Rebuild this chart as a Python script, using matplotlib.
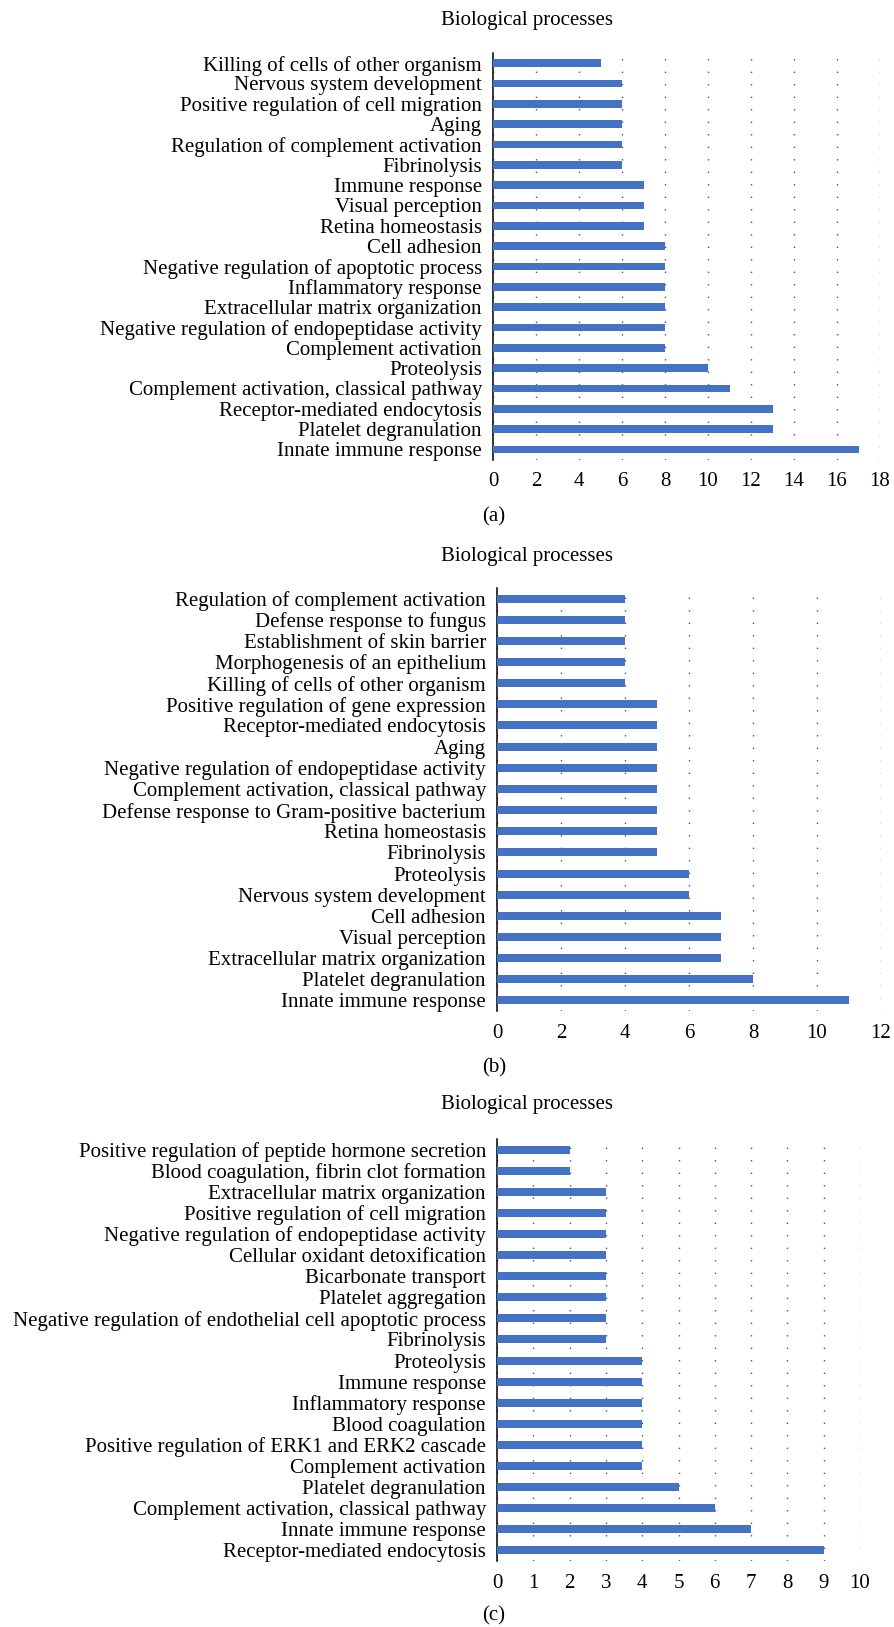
import matplotlib
matplotlib.use('Agg')
import matplotlib.pyplot as plt

plt.rcParams['font.family'] = ['Liberation Serif', 'DejaVu Serif']

# --- data (top to bottom as in the figure) ---
terms_a = [
    'Killing of cells of other organism', 'Nervous system development',
    'Positive regulation of cell migration', 'Aging',
    'Regulation of complement activation', 'Fibrinolysis', 'Immune response',
    'Visual perception', 'Retina homeostasis', 'Cell adhesion',
    'Negative regulation of apoptotic process', 'Inflammatory response',
    'Extracellular matrix organization',
    'Negative regulation of endopeptidase activity', 'Complement activation',
    'Proteolysis', 'Complement activation, classical pathway',
    'Receptor-mediated endocytosis', 'Platelet degranulation',
    'Innate immune response',
]
counts_a = [5, 6, 6, 6, 6, 6, 7, 7, 7, 8, 8, 8, 8, 8, 8, 10, 11, 13, 13, 17]
ticks_a = list(range(0, 19, 2))

terms_b = [
    'Regulation of complement activation', 'Defense response to fungus',
    'Establishment of skin barrier', 'Morphogenesis of an epithelium',
    'Killing of cells of other organism',
    'Positive regulation of gene expression', 'Receptor-mediated endocytosis',
    'Aging', 'Negative regulation of endopeptidase activity',
    'Complement activation, classical pathway',
    'Defense response to Gram-positive bacterium', 'Retina homeostasis',
    'Fibrinolysis', 'Proteolysis', 'Nervous system development',
    'Cell adhesion', 'Visual perception', 'Extracellular matrix organization',
    'Platelet degranulation', 'Innate immune response',
]
counts_b = [4, 4, 4, 4, 4, 5, 5, 5, 5, 5, 5, 5, 5, 6, 6, 7, 7, 7, 8, 11]
ticks_b = list(range(0, 13, 2))

terms_c = [
    'Positive regulation of peptide hormone secretion',
    'Blood coagulation, fibrin clot formation',
    'Extracellular matrix organization',
    'Positive regulation of cell migration',
    'Negative regulation of endopeptidase activity',
    'Cellular oxidant detoxification', 'Bicarbonate transport',
    'Platelet aggregation',
    'Negative regulation of endothelial cell apoptotic process',
    'Fibrinolysis', 'Proteolysis', 'Immune response', 'Inflammatory response',
    'Blood coagulation', 'Positive regulation of ERK1 and ERK2 cascade',
    'Complement activation', 'Platelet degranulation',
    'Complement activation, classical pathway', 'Innate immune response',
    'Receptor-mediated endocytosis',
]
counts_c = [2, 2, 3, 3, 3, 3, 3, 3, 3, 3, 4, 4, 4, 4, 4, 4, 5, 6, 7, 9]
ticks_c = list(range(0, 11))

W, H = 894, 1627
fig = plt.figure(figsize=(W / 100, H / 100), dpi=100)

BAR = '#4472C4'
FS = 15


def px_axes(left, right, top, bottom):
    return fig.add_axes([left / W, 1 - bottom / H, (right - left) / W, (bottom - top) / H])


def panel(box, terms, counts, ticks, title_y, letter, letter_y):
    ax = px_axes(*box)
    ypos = range(len(terms))
    ax.barh(ypos, counts, height=0.38, color=BAR, zorder=3)
    ax.set_yticks(list(ypos))
    ax.set_yticklabels(terms, fontsize=FS)
    ax.set_ylim(len(terms) - 0.5, -0.5)
    ax.set_xlim(ticks[0], ticks[-1])
    ax.set_xticks(ticks)
    ax.set_xticklabels([str(t) for t in ticks], fontsize=FS)
    ax.tick_params(axis='y', length=0, pad=8)
    ax.tick_params(axis='x', length=0, pad=9)
    for s in ['top', 'right', 'bottom']:
        ax.spines[s].set_visible(False)
    ax.spines['left'].set_linewidth(1.1)
    ax.spines['left'].set_color('black')
    ax.xaxis.grid(True, color='#555555', linewidth=1.0, linestyle=(0, (1, 8)))
    ax.set_axisbelow(True)
    fig.text(527 / W, 1 - title_y / H, 'Biological processes', fontsize=FS,
             ha='center', va='center')
    fig.text(494 / W, 1 - letter_y / H, letter, fontsize=FS, ha='center', va='center')
    return ax


panel((493, 880, 53, 459.6), terms_a, counts_a, ticks_a, 20, '(a)', 517)
panel((497, 881, 588, 1011), terms_b, counts_b, ticks_b, 556, '(b)', 1068)
panel((497, 860, 1139, 1561), terms_c, counts_c, ticks_c, 1105, '(c)', 1616)

fig.savefig('out.png', dpi=100)
